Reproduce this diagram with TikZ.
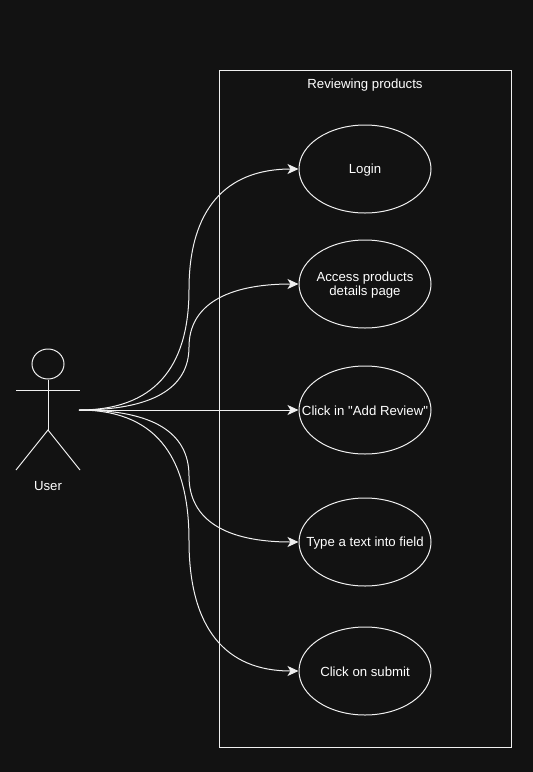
\documentclass[tikz,border=0pt]{standalone}
\usepackage{fontspec}
\newfontfamily\labelfont{Liberation Sans}
\usetikzlibrary{shapes.geometric,arrows.meta}
\definecolor{canvas}{HTML}{121212}
\definecolor{stroke}{HTML}{F0F0F0}
\begin{document}
\begin{tikzpicture}
[
    x=1pt, y=-1pt,
    line width=1pt,
    every node/.style={text=white, font=\labelfont\fontsize{13.2}{14.5}\selectfont, align=center},
    usecase/.style={draw=stroke, ellipse, inner sep=0pt, minimum width=132pt, minimum height=88pt, label={[yshift=-1pt]center:{#1}}},
    flow/.style={draw=stroke, -{Stealth[length=11pt,width=10pt,inset=3pt]}},
    limb/.style={draw=stroke},
]
\fill [canvas] (0,0) rectangle (533,772);
\useasboundingbox (0,0) rectangle (533,772);
\node [draw=stroke, minimum width=292pt, minimum height=677pt, inner sep=0pt] (system) at (365,408.5) {};
\node (title) at (365,85) {Reviewing products};
\node [usecase={Login}] (login) at (365,169) {};
\node [usecase={Access products\\details page}] (access) at (365,284) {};
\node [usecase={Click in "Add Review"}] (review) at (365,410) {};
\node [usecase={Type a text into field}] (typing) at (365,542) {};
\node [usecase={Click on submit}] (submit) at (365,671) {};
% actor
\node [draw=stroke, ellipse, inner sep=0pt, minimum width=32pt, minimum height=30pt] (head) at (48,364) {};
\coordinate (armL) at (16,390);
\coordinate (armR) at (80,390);
\coordinate (hip) at (48,430);
\coordinate (footL) at (16,470);
\coordinate (footR) at (80,470);
\coordinate (hand) at (79,410);
\draw [limb] (head) -- (hip);
\draw [limb] (armL) -- (armR);
\draw [limb] (footL) -- (hip) -- (footR);
\node (user) at (48,486) {User};
% connectors
\draw [flow] (hand) .. controls (152.3,410) and (189,369.7) .. (189,289.5)
    .. controls (189,209.3) and (225.7,169) .. (login.west);
\draw [flow] (hand) .. controls (152.3,410) and (189,388.3) .. (189,347)
    .. controls (189,305.7) and (225.7,284) .. (access.west);
\draw [flow] (hand) -- (review.west);
\draw [flow] (hand) .. controls (152.3,410) and (189,432) .. (189,476)
    .. controls (189,520) and (225.7,542) .. (typing.west);
\draw [flow] (hand) .. controls (152.3,410) and (189,452.3) .. (189,540.5)
    .. controls (189,628.7) and (225.7,671) .. (submit.west);
\end{tikzpicture}
\end{document}
